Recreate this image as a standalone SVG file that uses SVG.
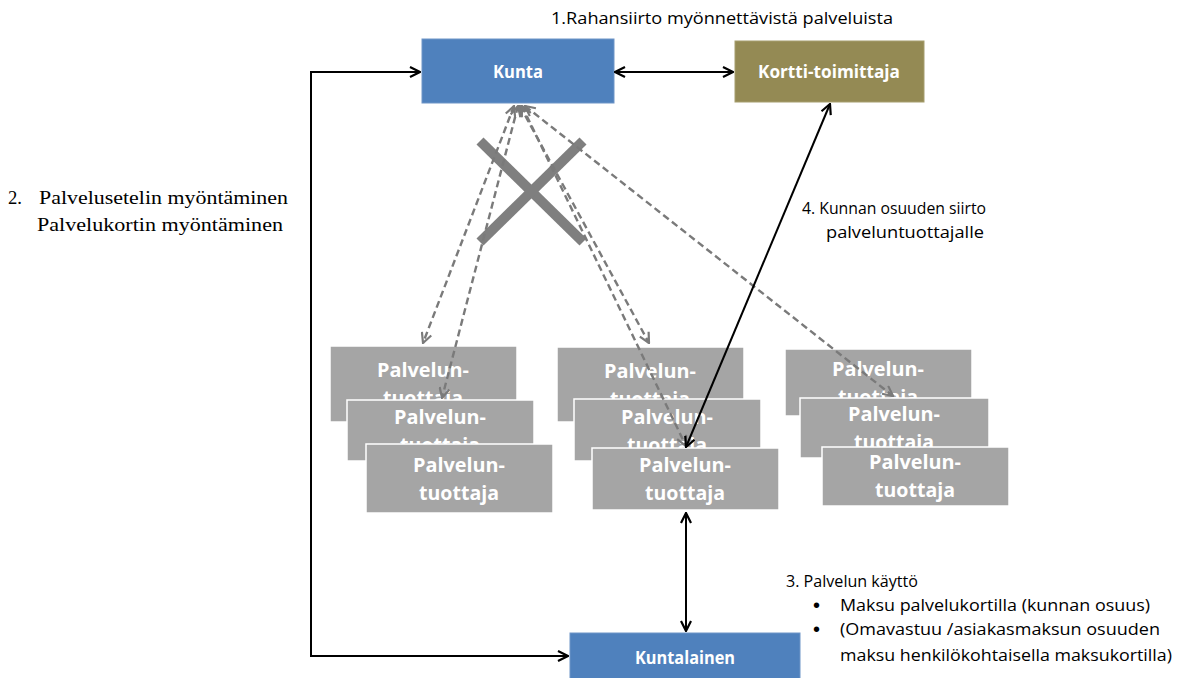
<svg xmlns="http://www.w3.org/2000/svg" width="1179" height="678" viewBox="0 0 1179 678">
  <defs>
    <marker id="arrowBlack" viewBox="0 0 12 12" refX="11" refY="6" markerWidth="12" markerHeight="12" markerUnits="userSpaceOnUse" orient="auto-start-reverse">
      <path d="M1,1 L11,6 L1,11" fill="none" stroke="#000" stroke-width="2.2"/>
    </marker>
    <marker id="arrowGray" viewBox="0 0 12 12" refX="11" refY="6" markerWidth="12" markerHeight="12" markerUnits="userSpaceOnUse" orient="auto-start-reverse">
      <path d="M1,1 L11,6 L1,11" fill="none" stroke="#7a7a7a" stroke-width="2.2"/>
    </marker>
    <!-- each stacked producer card only shows its text inside its own frame -->
    <clipPath id="clipA1"><rect x="330" y="346" width="187" height="54"/></clipPath>
    <clipPath id="clipA2"><rect x="347" y="400" width="187" height="44"/></clipPath>
    <clipPath id="clipB1"><rect x="557" y="347" width="187" height="52"/></clipPath>
    <clipPath id="clipB2"><rect x="574" y="399" width="187" height="49"/></clipPath>
    <clipPath id="clipC1"><rect x="785" y="349" width="187" height="49"/></clipPath>
    <clipPath id="clipC2"><rect x="800" y="398" width="189" height="49"/></clipPath>
    <style>
      .blue { fill: #4f81bd; stroke: #6f95c7; stroke-width: 1; }
      .olive { fill: #948a54; stroke: #a69e6e; stroke-width: 1; }
      .prov { fill: #a5a5a5; stroke: #ffffff; stroke-width: 1.5; }
      .boxtxt { font-family: "Open Sans", "Liberation Sans", sans-serif; font-weight: bold; fill: #ffffff; text-anchor: middle; }
      .lbl { font-family: "Open Sans", "Liberation Sans", sans-serif; font-size: 16px; fill: #000; }
      .bullet { font-family: "Liberation Sans", sans-serif; font-size: 20px; fill: #000; }
      .serif { font-family: "Liberation Serif", "DejaVu Serif", serif; font-size: 19px; fill: #000; }
      .solid { fill: none; stroke: #000; stroke-width: 2; }
      .dash { fill: none; stroke: #7a7a7a; stroke-width: 2.4; stroke-dasharray: 7 4; }
      .cross { stroke: #7f7f7f; stroke-width: 10; }
    </style>
  </defs>

  <rect width="1179" height="678" fill="#ffffff"/>

  <!-- Municipality -->
  <g id="kunta">
    <rect class="blue" x="422" y="39" width="192" height="64"/>
    <text class="boxtxt" x="518" y="78" font-size="17" textLength="50" lengthAdjust="spacingAndGlyphs">Kunta</text>
  </g>

  <!-- Card provider -->
  <g id="kortti-toimittaja">
    <rect class="olive" x="735" y="41" width="189" height="61"/>
    <text class="boxtxt" x="829" y="78" font-size="17" textLength="142" lengthAdjust="spacingAndGlyphs">Kortti-toimittaja</text>
  </g>

  <!-- Resident -->
  <g id="kuntalainen">
    <rect class="blue" x="570" y="633" width="230" height="50"/>
    <text class="boxtxt" x="685" y="664" font-size="17" textLength="100" lengthAdjust="spacingAndGlyphs">Kuntalainen</text>
  </g>

  <!-- Service producers, left stack -->
  <g id="tuottaja-a1">
    <rect class="prov" x="330" y="346" width="187" height="76"/>
    <g clip-path="url(#clipA1)">
      <text class="boxtxt" x="423" y="377" font-size="20" textLength="92" lengthAdjust="spacingAndGlyphs">Palvelun-</text>
      <text class="boxtxt" x="423" y="405" font-size="20" textLength="80" lengthAdjust="spacingAndGlyphs">tuottaja</text>
    </g>
  </g>
  <g id="tuottaja-a2">
    <rect class="prov" x="347" y="400" width="187" height="61"/>
    <g clip-path="url(#clipA2)">
      <text class="boxtxt" x="440" y="424" font-size="20" textLength="92" lengthAdjust="spacingAndGlyphs">Palvelun-</text>
      <text class="boxtxt" x="440" y="452" font-size="20" textLength="80" lengthAdjust="spacingAndGlyphs">tuottaja</text>
    </g>
  </g>
  <g id="tuottaja-a3">
    <rect class="prov" x="366" y="444" width="187" height="69"/>
    <text class="boxtxt" x="459" y="472" font-size="20" textLength="92" lengthAdjust="spacingAndGlyphs">Palvelun-</text>
    <text class="boxtxt" x="459" y="500" font-size="20" textLength="80" lengthAdjust="spacingAndGlyphs">tuottaja</text>
  </g>

  <!-- Service producers, middle stack -->
  <g id="tuottaja-b1">
    <rect class="prov" x="557" y="347" width="187" height="75"/>
    <g clip-path="url(#clipB1)">
      <text class="boxtxt" x="650" y="378" font-size="20" textLength="92" lengthAdjust="spacingAndGlyphs">Palvelun-</text>
      <text class="boxtxt" x="650" y="406" font-size="20" textLength="80" lengthAdjust="spacingAndGlyphs">tuottaja</text>
    </g>
  </g>
  <g id="tuottaja-b2">
    <rect class="prov" x="574" y="399" width="187" height="62"/>
    <g clip-path="url(#clipB2)">
      <text class="boxtxt" x="667" y="424" font-size="20" textLength="92" lengthAdjust="spacingAndGlyphs">Palvelun-</text>
      <text class="boxtxt" x="667" y="452" font-size="20" textLength="80" lengthAdjust="spacingAndGlyphs">tuottaja</text>
    </g>
  </g>
  <g id="tuottaja-b3">
    <rect class="prov" x="592" y="448" width="187" height="62"/>
    <text class="boxtxt" x="685" y="472" font-size="20" textLength="92" lengthAdjust="spacingAndGlyphs">Palvelun-</text>
    <text class="boxtxt" x="685" y="500" font-size="20" textLength="80" lengthAdjust="spacingAndGlyphs">tuottaja</text>
  </g>

  <!-- Service producers, right stack -->
  <g id="tuottaja-c1">
    <rect class="prov" x="785" y="349" width="187" height="67"/>
    <g clip-path="url(#clipC1)">
      <text class="boxtxt" x="878" y="376" font-size="20" textLength="92" lengthAdjust="spacingAndGlyphs">Palvelun-</text>
      <text class="boxtxt" x="878" y="404" font-size="20" textLength="80" lengthAdjust="spacingAndGlyphs">tuottaja</text>
    </g>
  </g>
  <g id="tuottaja-c2">
    <rect class="prov" x="800" y="398" width="189" height="60"/>
    <g clip-path="url(#clipC2)">
      <text class="boxtxt" x="894" y="421" font-size="20" textLength="92" lengthAdjust="spacingAndGlyphs">Palvelun-</text>
      <text class="boxtxt" x="894" y="449" font-size="20" textLength="80" lengthAdjust="spacingAndGlyphs">tuottaja</text>
    </g>
  </g>
  <g id="tuottaja-c3">
    <rect class="prov" x="822" y="447" width="187" height="59"/>
    <text class="boxtxt" x="915" y="469" font-size="20" textLength="92" lengthAdjust="spacingAndGlyphs">Palvelun-</text>
    <text class="boxtxt" x="915" y="497" font-size="20" textLength="80" lengthAdjust="spacingAndGlyphs">tuottaja</text>
  </g>

  <!-- Connectors -->
  <g id="connectors">
    <!-- crossed-out direct link -->
    <line class="cross" x1="480" y1="141" x2="583" y2="242"/>
    <line class="cross" x1="583" y1="141" x2="480" y2="242"/>

    <!-- dashed links from municipality to producers -->
    <line class="dash" x1="514" y1="106" x2="423" y2="343" marker-start="url(#arrowGray)" marker-end="url(#arrowGray)"/>
    <line class="dash" x1="518" y1="106" x2="442" y2="398" marker-start="url(#arrowGray)" marker-end="url(#arrowGray)"/>
    <line class="dash" x1="520" y1="106" x2="649" y2="343" marker-start="url(#arrowGray)" marker-end="url(#arrowGray)"/>
    <line class="dash" x1="522" y1="106" x2="686" y2="446" marker-start="url(#arrowGray)" marker-end="url(#arrowGray)"/>
    <line class="dash" x1="525" y1="106" x2="893" y2="396" marker-start="url(#arrowGray)" marker-end="url(#arrowGray)"/>

    <!-- money transfer: municipality <-> card provider -->
    <line class="solid" x1="615" y1="72" x2="733" y2="72" marker-start="url(#arrowBlack)" marker-end="url(#arrowBlack)"/>

    <!-- voucher / card granting loop -->
    <path class="solid" d="M420,72 H311 V656 H568" marker-start="url(#arrowBlack)" marker-end="url(#arrowBlack)"/>

    <!-- card provider <-> producer -->
    <line class="solid" x1="830" y1="104" x2="686" y2="447" marker-start="url(#arrowBlack)" marker-end="url(#arrowBlack)"/>

    <!-- resident <-> producer -->
    <line class="solid" x1="686" y1="513" x2="686" y2="631" marker-start="url(#arrowBlack)" marker-end="url(#arrowBlack)"/>
  </g>

  <!-- Labels -->
  <g id="labels">
    <text class="lbl" x="551" y="24" textLength="342" lengthAdjust="spacingAndGlyphs">1.Rahansiirto myönnettävistä palveluista</text>

    <text class="serif" x="8" y="204" textLength="14" lengthAdjust="spacingAndGlyphs">2.</text>
    <text class="serif" x="39" y="204" textLength="249" lengthAdjust="spacingAndGlyphs">Palvelusetelin myöntäminen</text>
    <text class="serif" x="37" y="231" textLength="246" lengthAdjust="spacingAndGlyphs">Palvelukortin myöntäminen</text>

    <text class="lbl" x="802" y="214" textLength="184" lengthAdjust="spacingAndGlyphs">4. Kunnan osuuden siirto</text>
    <text class="lbl" x="826" y="238" textLength="158" lengthAdjust="spacingAndGlyphs">palveluntuottajalle</text>

    <text class="lbl" x="786" y="587" textLength="132" lengthAdjust="spacingAndGlyphs">3. Palvelun käyttö</text>
    <text class="bullet" x="813" y="612">•</text>
    <text class="lbl" x="840" y="611" textLength="310" lengthAdjust="spacingAndGlyphs">Maksu palvelukortilla (kunnan osuus)</text>
    <text class="bullet" x="813" y="636">•</text>
    <text class="lbl" x="840" y="635" textLength="320" lengthAdjust="spacingAndGlyphs">(Omavastuu /asiakasmaksun  osuuden</text>
    <text class="lbl" x="840" y="661" textLength="332" lengthAdjust="spacingAndGlyphs">maksu henkilökohtaisella maksukortilla)</text>
  </g>
</svg>
